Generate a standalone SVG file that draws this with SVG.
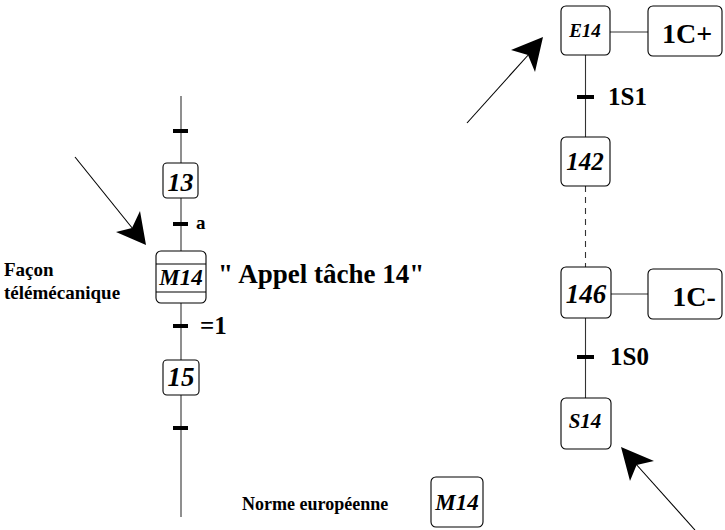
<svg xmlns="http://www.w3.org/2000/svg" width="725" height="530" viewBox="0 0 725 530" font-family="'Liberation Serif', 'Times New Roman', serif">
<style>
text{font-weight:bold;fill:#000}
.step{fill:#fff;stroke:#000;stroke-width:1.1}
.num{font-style:italic;text-anchor:middle}
.wire{stroke:#333;stroke-width:1.1;fill:none}
.tick{stroke:#000;stroke-width:4}
.arr{stroke:#000;stroke-width:1.1}
</style>
<g id="connectors">
  <line class="wire" x1="181" y1="96" x2="181" y2="517"/>
  <line class="tick" x1="173" y1="131" x2="188" y2="131"/>
  <line class="tick" x1="173" y1="224" x2="188" y2="224"/>
  <line class="tick" x1="173" y1="326" x2="188" y2="326"/>
  <line class="tick" x1="173" y1="428" x2="188" y2="428"/>
  <line class="wire" x1="585.5" y1="55" x2="585.5" y2="137"/>
  <line class="wire" x1="585.5" y1="186" x2="585.5" y2="267" stroke-dasharray="6,5"/>
  <line class="wire" x1="585.5" y1="318" x2="585.5" y2="398"/>
  <line class="tick" x1="577" y1="97" x2="594" y2="97"/>
  <line class="tick" x1="577" y1="357" x2="594" y2="357"/>
  <line class="wire" x1="610" y1="32" x2="648" y2="32"/>
  <line class="wire" x1="611" y1="294" x2="648" y2="294"/>
  <line class="arr" x1="75" y1="157" x2="137" y2="234"/>
  <polygon points="146,245 116,232 132,228 140,211"/>
  <line class="arr" x1="467" y1="123" x2="530" y2="53"/>
  <polygon points="543,37 535,72 528,55 511,50"/>
  <line class="arr" x1="695" y1="530" x2="635" y2="463"/>
  <polygon points="621,447 654,461 636.6,465 630,481"/>
</g>
<g id="step13">
  <rect class="step" x="163" y="163" width="35" height="35" rx="4"/>
  <text class="num" x="180.5" y="191" font-size="26">13</text>
</g>
<g id="trans-a"><text x="196" y="229" font-size="19">a</text></g>
<g id="macroM14">
  <rect class="step" x="156" y="251" width="50" height="52" rx="5"/>
  <line stroke="#000" stroke-width="1.1" x1="156" y1="264" x2="206" y2="264"/>
  <line stroke="#000" stroke-width="1.1" x1="156" y1="292" x2="206" y2="292"/>
  <text class="num" x="181" y="285" font-size="23">M14</text>
</g>
<g id="label-facon">
  <text x="4" y="276" font-size="19">Façon</text>
  <text x="4" y="299" font-size="19">télémécanique</text>
</g>
<g id="label-appel"><text x="218" y="283" font-size="27">" Appel tâche 14"</text></g>
<g id="trans-1"><text x="200" y="334" font-size="25">=1</text></g>
<g id="step15">
  <rect class="step" x="163" y="360" width="36" height="35" rx="4"/>
  <text class="num" x="181" y="386" font-size="27">15</text>
</g>
<g id="stepE14">
  <rect class="step" x="561" y="6" width="49" height="49" rx="5"/>
  <text class="num" x="585" y="37" font-size="19">E14</text>
</g>
<g id="action1Cplus">
  <rect class="step" x="648" y="6" width="74" height="50" rx="5"/>
  <text x="687" y="43" font-size="28" text-anchor="middle">1C+</text>
</g>
<g id="trans-1S1"><text x="608" y="105" font-size="25">1S1</text></g>
<g id="step142">
  <rect class="step" x="561" y="137" width="49" height="49" rx="5"/>
  <text class="num" x="585" y="170" font-size="25">142</text>
</g>
<g id="step146">
  <rect class="step" x="561" y="267" width="50" height="51" rx="5"/>
  <text class="num" x="586" y="303" font-size="27">146</text>
</g>
<g id="action1Cminus">
  <rect class="step" x="648" y="269" width="74" height="50" rx="5"/>
  <text x="694" y="306" font-size="28" text-anchor="middle">1C-</text>
</g>
<g id="trans-1S0"><text x="610" y="365" font-size="25">1S0</text></g>
<g id="stepS14">
  <rect class="step" x="561" y="398" width="50" height="51" rx="5"/>
  <text class="num" x="585" y="428" font-size="21">S14</text>
</g>
<g id="label-norme"><text x="242" y="510" font-size="18">Norme européenne</text></g>
<g id="macroM14-eu">
  <rect class="step" x="431" y="477" width="52" height="50" rx="5"/>
  <text class="num" x="457" y="510" font-size="23">M14</text>
</g>
</svg>
